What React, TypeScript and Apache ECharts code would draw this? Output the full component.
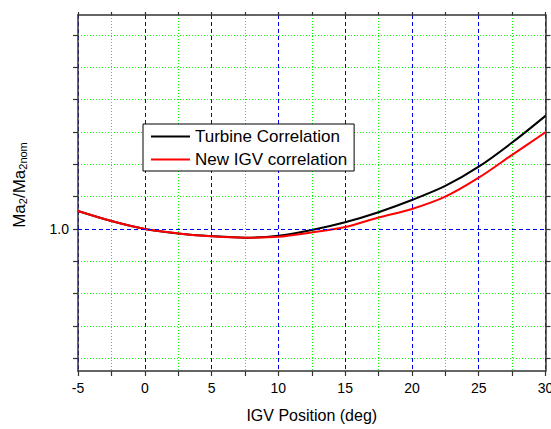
import React, { useEffect, useRef } from "react";
import * as echarts from "echarts";

const xValues = [-5, -2.5, 0, 2.5, 5, 7.5, 10, 12.5, 15, 17.5, 20, 22.5, 25, 27.5, 30];
const turbine = [1.0111, 1.0049, 1.0, 0.9973, 0.9956, 0.9946, 0.9958, 0.9994, 1.0042, 1.0104, 1.0179, 1.0266, 1.0385, 1.0534, 1.0699];
const newIgv = [1.0111, 1.0049, 1.0, 0.9973, 0.9955, 0.9946, 0.9952, 0.9979, 1.0012, 1.0071, 1.0124, 1.02, 1.0317, 1.0458, 1.0598];
const yGridTicks = [0.92, 0.94, 0.96, 0.98, 1.0, 1.02, 1.04, 1.06, 1.08, 1.1, 1.12];
const seriesNames = ["Turbine Correlation", "New IGV correlation"];

const FONT = "'Liberation Sans', Arial, sans-serif";
const AXIS = "#333";
const BLUE = "#0000ff";
const GREEN = "#00ff00";
const Y_MIN = 0.9123;
const Y_MAX = 1.1322;

export default function App() {
  const ref = useRef<HTMLDivElement>(null);
  useEffect(() => {
    if (!ref.current) return;
    const chart = echarts.init(ref.current, null, { renderer: "svg" });
    const axisLine = { show: true, onZero: false, lineStyle: { color: AXIS, width: 1.5 } };
    const tickStyle = { color: AXIS, width: 1.2 };
    const pairs = (ys: number[]) => xValues.map((x, i) => [x, ys[i]]);
    chart.setOption({
      animation: false,
      backgroundColor: "#fff",
      grid: [
        { left: 78, right: 5.5, top: 15, bottom: 58, outerBoundsMode: "none", containLabel: false },
        { left: 78, right: 5.5, top: 35, bottom: 70.7, outerBoundsMode: "none", containLabel: false },
      ],
      legend: {
        left: 143,
        top: 124,
        orient: "vertical",
        icon: "rect",
        itemWidth: 39,
        itemHeight: 2,
        itemGap: 6,
        padding: [4, 7, 3, 8],
        backgroundColor: "#fff",
        borderColor: "#000",
        borderWidth: 1,
        borderRadius: 0,
        textStyle: { fontSize: 17, color: "#000", fontFamily: FONT },
        data: seriesNames,
      },
      xAxis: [
        {
          gridIndex: 0,
          type: "value",
          min: -5,
          max: 30,
          interval: 5,
          position: "bottom",
          axisLine,
          axisTick: { show: true, inside: false, length: 5, lineStyle: tickStyle },
          minorTick: { show: true, splitNumber: 2, length: 5, lineStyle: tickStyle },
          axisLabel: { show: true, color: "#000", fontSize: 14, margin: 10, fontFamily: FONT },
          splitLine: { show: true, lineStyle: { color: BLUE, type: [4, 3], width: 1 } },
          minorSplitLine: { show: true, lineStyle: { color: GREEN, type: [1, 2], width: 1 } },
          name: "IGV Position (deg)",
          nameLocation: "middle",
          nameGap: 36,
          nameTextStyle: { fontSize: 16, color: "#000", fontFamily: FONT },
        },
        {
          gridIndex: 0,
          type: "value",
          min: -5,
          max: 30,
          interval: 5,
          position: "top",
          axisLine,
          axisTick: { show: true, inside: false, length: 3, lineStyle: tickStyle },
          minorTick: { show: true, splitNumber: 2, length: 3, lineStyle: tickStyle },
          axisLabel: { show: false },
          splitLine: { show: false },
        },
        { gridIndex: 1, type: "value", min: -5, max: 30, show: false },
      ],
      yAxis: [
        {
          gridIndex: 0,
          type: "value",
          min: Y_MIN,
          max: Y_MAX,
          position: "left",
          axisLine,
          axisTick: { show: false },
          axisLabel: { show: false },
          splitLine: { show: false },
        },
        {
          gridIndex: 0,
          type: "value",
          min: Y_MIN,
          max: Y_MAX,
          position: "right",
          axisLine,
          axisTick: { show: false },
          axisLabel: { show: false },
          splitLine: { show: false },
        },
        {
          gridIndex: 1,
          type: "value",
          min: 0.92,
          max: 1.12,
          interval: 0.02,
          position: "left",
          axisLine: { show: false, onZero: false },
          axisTick: { show: true, inside: false, length: 5, lineStyle: tickStyle },
          axisLabel: {
            show: true,
            color: "#000",
            fontSize: 14,
            margin: 9,
            fontFamily: FONT,
            formatter: (v: number) => (Math.abs(v - 1) < 1e-9 ? "1.0" : ""),
          },
          splitLine: {
            show: true,
            showMinLine: true,
            showMaxLine: true,
            lineStyle: {
              color: yGridTicks.map((v) => (Math.abs(v - 1) < 1e-9 ? "rgba(0,0,0,0)" : GREEN)),
              type: [1, 2],
              width: 1,
            },
          },
        },
        {
          gridIndex: 1,
          type: "value",
          min: 0.92,
          max: 1.12,
          interval: 0.02,
          position: "right",
          axisLine: { show: false, onZero: false },
          axisTick: { show: true, inside: false, length: 5, lineStyle: tickStyle },
          axisLabel: { show: false },
          splitLine: { show: false },
        },
      ],
      graphic: [
        {
          type: "text",
          x: 19,
          y: 185,
          rotation: Math.PI / 2,
          style: {
            text: "{m|Ma}{s|2}{m|/Ma}{s|2nom}",
            align: "center",
            verticalAlign: "middle",
            fill: "#000",
            rich: {
              m: { fontSize: 17, lineHeight: 20, fontFamily: FONT, fill: "#000" },
              s: { fontSize: 11, padding: [8, 0, 0, 0], fontFamily: FONT, fill: "#000" },
            },
          },
        },
      ],
      series: [
        {
          name: seriesNames[0],
          type: "line",
          xAxisIndex: 0,
          yAxisIndex: 0,
          data: pairs(turbine),
          smooth: 0.3,
          symbol: "none",
          lineStyle: { color: "#000", width: 2 },
          itemStyle: { color: "#000" },
          markLine: {
            silent: true,
            symbol: ["none", "none"],
            label: { show: false },
            lineStyle: { color: BLUE, type: [4, 3], width: 1 },
            data: [{ yAxis: 1.0 }],
          },
          z: 3,
        },
        {
          name: seriesNames[1],
          type: "line",
          xAxisIndex: 0,
          yAxisIndex: 0,
          data: pairs(newIgv),
          smooth: 0.3,
          symbol: "none",
          lineStyle: { color: "#ff0000", width: 2 },
          itemStyle: { color: "#ff0000" },
          z: 4,
        },
      ],
    });
    return () => chart.dispose();
  }, []);
  return <div ref={ref} style={{ position: "absolute", left: 0, top: 0, width: 551, height: 429 }} />;
}
